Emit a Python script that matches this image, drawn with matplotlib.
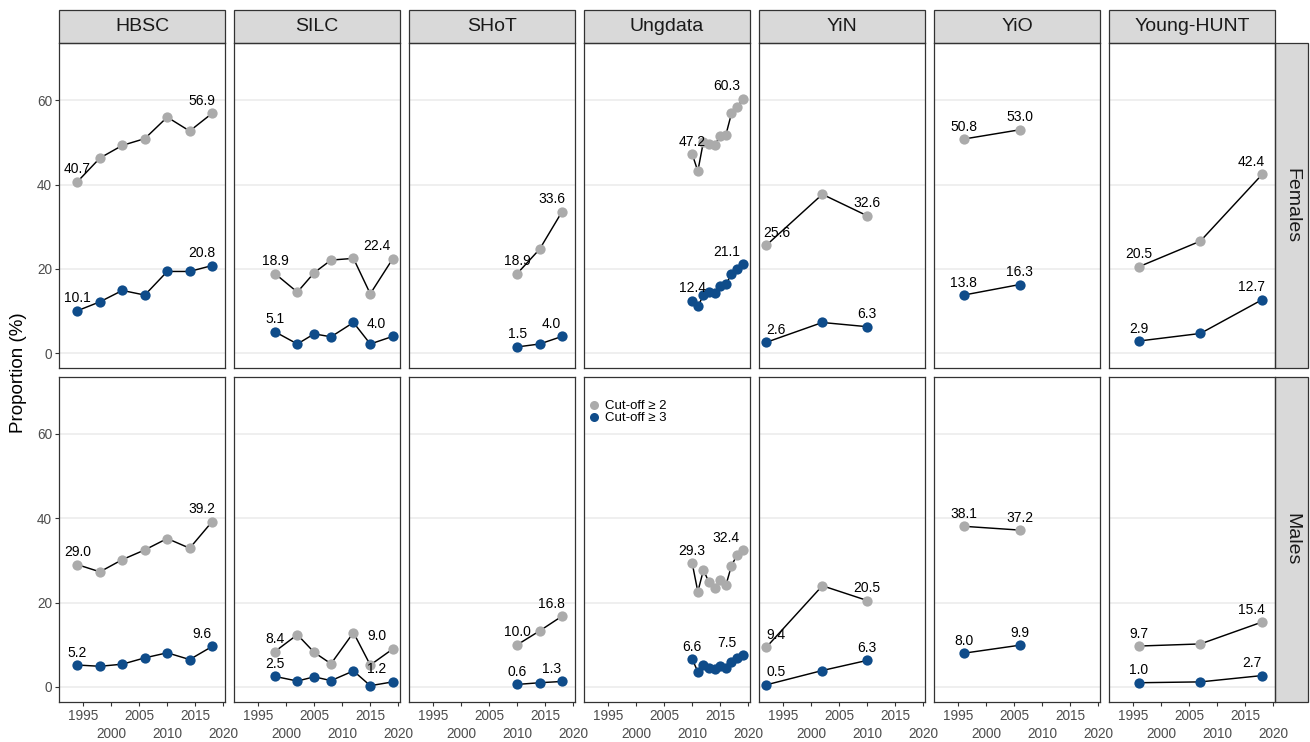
import matplotlib
matplotlib.use('Agg')
import matplotlib.pyplot as plt
from matplotlib.patches import Rectangle
from matplotlib.lines import Line2D
from matplotlib.transforms import offset_copy

studies = ['HBSC', 'SILC', 'SHoT', 'Ungdata', 'YiN', 'YiO', 'Young-HUNT']
sexes = ['Females', 'Males']

years = {
    'HBSC': [1994, 1998, 2002, 2006, 2010, 2014, 2018],
    'SILC': [1998, 2002, 2005, 2008, 2012, 2015, 2019],
    'SHoT': [2010, 2014, 2018],
    'Ungdata': [2010, 2011, 2012, 2013, 2014, 2015, 2016, 2017, 2018, 2019],
    'YiN': [1992, 2002, 2010],
    'YiO': [1996, 2006],
    'Young-HUNT': [1996, 2007, 2018],
}

# proportion (%) above cut-off >= 2
females_cut2 = {
    'HBSC': [40.7, 46.3, 49.3, 50.9, 56.0, 52.7, 56.9],
    'SILC': [18.9, 14.5, 19.1, 22.1, 22.5, 14.1, 22.4],
    'SHoT': [18.9, 24.7, 33.6],
    'Ungdata': [47.2, 43.2, 50.2, 49.6, 49.3, 51.6, 51.8, 56.9, 58.3, 60.3],
    'YiN': [25.6, 37.7, 32.6],
    'YiO': [50.8, 53.0],
    'Young-HUNT': [20.5, 26.6, 42.4],
}
males_cut2 = {
    'HBSC': [29.0, 27.3, 30.2, 32.5, 35.2, 32.9, 39.2],
    'SILC': [8.4, 12.4, 8.2, 5.5, 12.9, 5.2, 9.0],
    'SHoT': [10.0, 13.3, 16.8],
    'Ungdata': [29.3, 22.6, 27.7, 24.8, 23.5, 25.4, 24.1, 28.8, 31.3, 32.4],
    'YiN': [9.4, 24.0, 20.5],
    'YiO': [38.1, 37.2],
    'Young-HUNT': [9.7, 10.2, 15.4],
}

# proportion (%) above cut-off >= 3
females_cut3 = {
    'HBSC': [10.1, 12.2, 14.9, 13.8, 19.4, 19.4, 20.8],
    'SILC': [5.1, 2.2, 4.6, 3.9, 7.3, 2.2, 4.0],
    'SHoT': [1.5, 2.2, 4.0],
    'Ungdata': [12.4, 11.1, 13.8, 14.5, 14.4, 16.0, 16.4, 18.7, 19.9, 21.1],
    'YiN': [2.6, 7.3, 6.3],
    'YiO': [13.8, 16.3],
    'Young-HUNT': [2.9, 4.7, 12.7],
}
males_cut3 = {
    'HBSC': [5.2, 4.9, 5.4, 6.9, 8.1, 6.5, 9.6],
    'SILC': [2.5, 1.4, 2.4, 1.5, 3.8, 0.3, 1.2],
    'SHoT': [0.6, 1.0, 1.3],
    'Ungdata': [6.6, 3.6, 5.2, 4.5, 4.3, 5.0, 4.4, 6.0, 6.9, 7.5],
    'YiN': [0.5, 3.9, 6.3],
    'YiO': [8.0, 9.9],
    'Young-HUNT': [1.0, 1.2, 2.7],
}

cut2_color = '#ABABAB'
cut3_color = '#0F4C8A'

plt.rcParams['font.family'] = ['Liberation Sans', 'DejaVu Sans']

fig = plt.figure(figsize=(13.1, 7.42), dpi=100)
axes = fig.subplots(2, 7, sharex=True, sharey=True)
fig.subplots_adjust(left=0.0448, right=0.9735, top=0.9416, bottom=0.0543,
                    wspace=0.0504, hspace=0.0277)

series = {'Females': (females_cut2, females_cut3),
          'Males': (males_cut2, males_cut3)}

for r, sex in enumerate(sexes):
    cut2, cut3 = series[sex]
    for c, study in enumerate(studies):
        ax = axes[r, c]
        x = years[study]
        lab_trans = offset_copy(ax.transData, fig=fig, y=9.0, units='points')
        for vals, col in ((cut2[study], cut2_color), (cut3[study], cut3_color)):
            ax.plot(x, vals, color='black', lw=1.05, zorder=2)
            ax.plot(x, vals, 'o', color=col, ms=7.4, mec='none', zorder=3)
            # label first and last value, kept inside the panel
            for i in (0, len(x) - 1):
                lx = min(max(x[i], 1993.8), 2016.1)
                ax.text(lx, vals[i], f'{vals[i]:.1f}', transform=lab_trans,
                        ha='center', va='center', fontsize=10,
                        color='black', zorder=4)

        ax.set_xlim(1990.65, 2020.35)
        ax.set_ylim(-3.5, 73.5)
        ax.set_yticks([0, 20, 40, 60])
        ax.set_xticks([1995, 2005, 2015])
        ax.set_xticks([2000, 2010, 2020], minor=True)
        ax.set_xticklabels(['1995', '2005', '2015'])
        ax.set_xticklabels(['2000', '2010', '2020'], minor=True)
        ax.yaxis.grid(True, color='#EBEBEB', lw=1.1)
        ax.set_axisbelow(True)
        for sp in ax.spines.values():
            sp.set_color('#333333')
            sp.set_linewidth(0.9)
        ax.tick_params(which='both', direction='out', length=2.9, width=0.8,
                       color='#333333', labelcolor='#4D4D4D', labelsize=9.8)
        ax.tick_params(axis='x', which='major', pad=2.5)
        ax.tick_params(axis='x', which='minor', pad=15.5)
        ax.tick_params(axis='y', pad=2)
        if r == 0:
            ax.tick_params(axis='x', which='both', bottom=False)
        if c > 0:
            ax.tick_params(axis='y', left=False)

        # facet strips
        if r == 0:
            h = 33.0 / 325.0
            ax.add_patch(Rectangle((0, 1), 1, h, transform=ax.transAxes,
                                   clip_on=False, facecolor='#D9D9D9',
                                   edgecolor='#333333', lw=0.9))
            ax.text(0.5, 1 + h / 2, study, transform=ax.transAxes,
                    ha='center', va='center', fontsize=14, color='#1A1A1A')
        if c == len(studies) - 1:
            w = 32.4 / 166.6
            ax.add_patch(Rectangle((1, 0), w, 1, transform=ax.transAxes,
                                   clip_on=False, facecolor='#D9D9D9',
                                   edgecolor='#333333', lw=0.9))
            ax.text(1 + w / 2, 0.5, sex, transform=ax.transAxes, rotation=-90,
                    ha='center', va='center', fontsize=14, color='#1A1A1A')

handles = [Line2D([], [], marker='o', ls='', color=cut2_color, mec='none', ms=6.5),
           Line2D([], [], marker='o', ls='', color=cut3_color, mec='none', ms=6.5)]
axes[1, 3].legend(handles, ['Cut-off ≥ 2', 'Cut-off ≥ 3'], loc='upper left',
                  bbox_to_anchor=(-0.045, 0.966), frameon=False, fontsize=9.5,
                  handlelength=0.9, handletextpad=0.35, labelspacing=0.0,
                  borderpad=0.4)

fig.text(0.0145, 0.498, 'Proportion (%)', rotation=90, ha='center',
         va='center', fontsize=13.5, color='black')

plt.savefig('out.png', dpi=100)
